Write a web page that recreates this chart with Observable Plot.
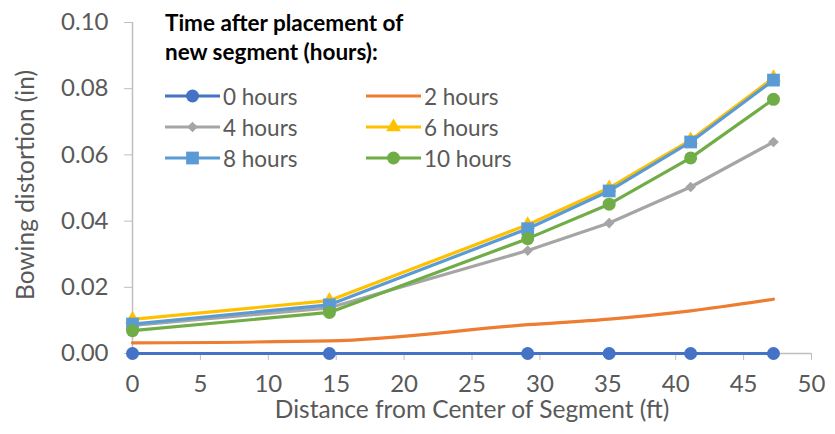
<!DOCTYPE html>
<html>
<head>
<meta charset="utf-8">
<script src="https://cdn.jsdelivr.net/npm/d3@7"></script>
<script src="https://cdn.jsdelivr.net/npm/@observablehq/plot@0.6"></script>
<style>
  body { margin: 0; background: #fff; }
  #wrap { position: relative; width: 835px; height: 434px; font-family: Lato, "Open Sans", sans-serif; }
  #legend { position: absolute; left: 165px; top: 8px; }
  #legend .title { font-weight: bold; font-size: 22.5px; line-height: 29px; color: #000; }
  #legend .item { position: absolute; display: flex; align-items: center; font-size: 22.5px; color: #595959; white-space: nowrap; }
  #legend .item svg { margin-right: 3px; }
</style>
</head>
<body>
<div id="wrap">
  <div id="chart"></div>
  <div id="legend"><div class="title">Time after placement of<br>new segment (hours):</div></div>
</div>
<script>
const distance = [0, 14.5, 29.1, 35.1, 41.1, 47.2];
const seriesNames = ["0 hours", "2 hours", "4 hours", "6 hours", "8 hours", "10 hours"];
const hours0  = [0, 0, 0, 0, 0, 0];
const hours2  = [0.0032, 0.0038, 0.0087, 0.0104, 0.0129, 0.0164];
const hours4  = [0.0085, 0.0138, 0.0311, 0.0394, 0.0503, 0.0639];
const hours6  = [0.0103, 0.0160, 0.0389, 0.0500, 0.0645, 0.0833];
const hours8  = [0.0089, 0.0147, 0.0377, 0.0491, 0.0639, 0.0826];
const hours10 = [0.0069, 0.0124, 0.0347, 0.0451, 0.0591, 0.0768];
const xTicks = [0, 5, 10, 15, 20, 25, 30, 35, 40, 45, 50];
const yTicks = [0, 0.02, 0.04, 0.06, 0.08, 0.10];
const xTitle = "Distance from Center of Segment (ft)";
const yTitle = "Bowing distortion (in)";

const seriesValues = [hours0, hours2, hours4, hours6, hours8, hours10];
const colors = ["#4472C4", "#ED7D31", "#A5A5A5", "#FFC000", "#5B9BD5", "#70AD47"];
const symbols = ["circle", null, "diamond2", "triangle", "square", "circle"];
const symbolR = [6.5, 0, 4.8, 5.5, 7.2, 6.5];

const marks = [
  Plot.ruleY([0], {stroke: "#BFBFBF", strokeWidth: 1.5}),
  Plot.ruleX([0], {stroke: "#BFBFBF", strokeWidth: 1.5}),
  Plot.axisX({ticks: xTicks, tickSize: 7, tickPadding: 14, stroke: "#BFBFBF", fill: "#595959", label: null, fontSize: 24, tickFormat: d3.format("d")}),
  Plot.axisY({ticks: yTicks, tickSize: 8, tickPadding: 16, stroke: "#BFBFBF", fill: "#595959", label: null, fontSize: 24, tickFormat: d3.format(".2f")}),
  Plot.text([xTitle], {frameAnchor: "bottom", dy: 57, fill: "#595959", fontSize: 24.5, lineAnchor: "middle", textAnchor: "middle"}),
  Plot.text([yTitle], {frameAnchor: "left", dx: -106, dy: -3, rotate: -90, fill: "#595959", fontSize: 24.5, lineAnchor: "middle", textAnchor: "middle"})
];

seriesNames.forEach((name, i) => {
  const data = distance.map((d, j) => ({series: name, distance: d, value: seriesValues[i][j]}));
  marks.push(Plot.line(data, {
    x: "distance", y: "value", stroke: colors[i], strokeWidth: 3.2,
    curve: symbols[i] ? "linear" : "monotone-x"
  }));
  if (symbols[i]) {
    marks.push(Plot.dot(data, {x: "distance", y: "value", fill: colors[i], stroke: "none", symbol: () => symbols[i], r: symbolR[i]}));
  }
});

const chart = Plot.plot({
  width: 835,
  height: 434,
  marginLeft: 132,
  marginRight: 24,
  marginTop: 22,
  marginBottom: 81,
  x: {domain: [0, 50]},
  y: {domain: [0, 0.10]},
  style: {fontFamily: "Lato, 'Open Sans', sans-serif", fontSize: "22px", background: "#fff", overflow: "visible"},
  marks
});
document.getElementById("chart").appendChild(chart);

// Legend
const legend = document.getElementById("legend");
const rowY = [97, 128, 159];
const colX = [0, 201];
seriesNames.forEach((name, i) => {
  const item = document.createElement("div");
  item.className = "item";
  item.style.left = colX[i % 2] + "px";
  item.style.top = (rowY[Math.floor(i / 2)] - 9 - 12) + "px";
  item.style.height = "24px";
  const sw = d3.create("svg").attr("width", 55).attr("height", 24);
  sw.append("line").attr("x1", 0).attr("x2", 55).attr("y1", 12).attr("y2", 12)
    .attr("stroke", colors[i]).attr("stroke-width", 3.2);
  if (symbols[i]) {
    const typ = {circle: d3.symbolCircle, square: d3.symbolSquare, triangle: d3.symbolTriangle, diamond2: d3.symbolDiamond2}[symbols[i]];
    sw.append("path").attr("transform", "translate(27.5,12)")
      .attr("d", d3.symbol(typ, Math.PI * symbolR[i] * symbolR[i])())
      .attr("fill", colors[i]);
  }
  item.appendChild(sw.node());
  const label = document.createElement("span");
  label.textContent = name;
  item.appendChild(label);
  legend.appendChild(item);
});
</script>
</body>
</html>
